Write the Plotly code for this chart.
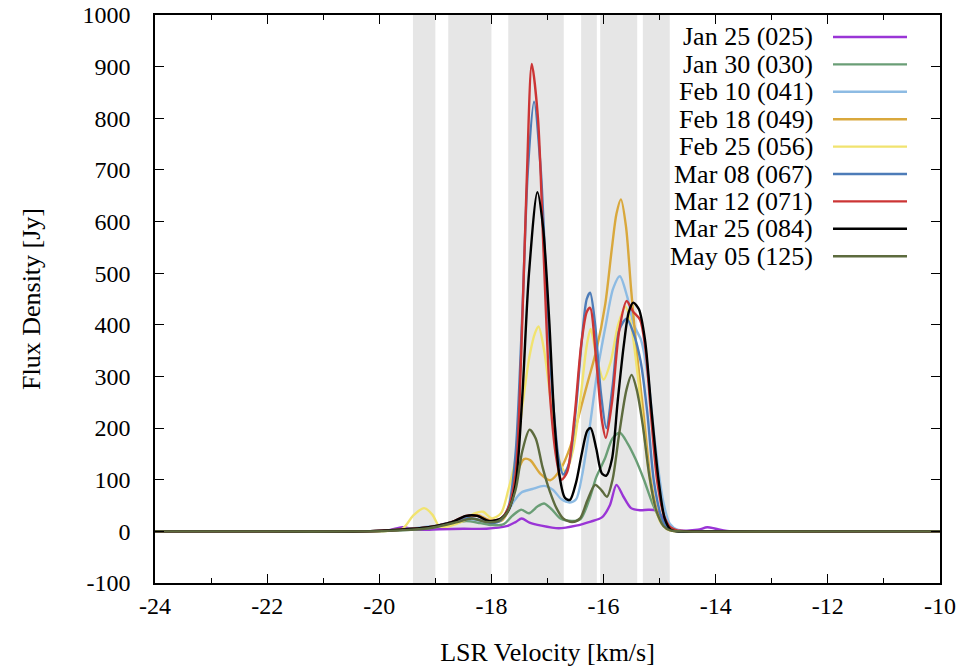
import plotly.graph_objects as go

# ---------------- data ----------------
labels = ["Jan 25 (025)", "Jan 30 (030)", "Feb 10 (041)", "Feb 18 (049)", "Feb 25 (056)",
          "Mar 08 (067)", "Mar 12 (071)", "Mar 25 (084)", "May 05 (125)"]
colors = ["#9a35d6", "#6a9e76", "#8dbbe3", "#d9a83c", "#f1e36f",
          "#4d7cb8", "#cc3535", "#000000", "#5d6b3e"]

jan25_v = [-24, -22, -20.55, -19.84, -19.59, -19.33, -18.92, -18.5, -18.09, -17.73, -17.57, -17.46, -17.32, -17.11, -16.8, -16.49, -16.23, -16.03, -15.89, -15.77, -15.65, -15.51, -15.35, -15.2, -15.05, -14.93, -14.81, -14.63, -14.32, -14.15, -14.0, -13.8, -13.4, -12, -10]
jan25_f = [0, 0, 0, 2, 8, 3, 4, 5, 5, 10, 18, 25, 17, 11, 6, 11, 19, 27, 50, 90, 68, 45, 41, 42, 40, 24, 6, 2, 3, 8, 5, 1, 0, 0, 0]

jan30_v = [-24, -22, -20.26, -19.64, -19.12, -18.71, -18.45, -18.2, -17.99, -17.78, -17.63, -17.47, -17.33, -17.18, -17.06, -16.92, -16.77, -16.56, -16.41, -16.26, -16.13, -15.98, -15.84, -15.71, -15.57, -15.43, -15.28, -15.12, -14.96, -14.82, -14.63, -14.28, -12, -10]
jan30_f = [0, 0, 0, 2, 6, 15, 20, 16, 12, 14, 30, 42, 35, 48, 54, 42, 25, 20, 24, 60, 105, 140, 180, 191, 170, 140, 100, 52, 18, 4, 0, 0, 0, 0]

feb10_v = [-24, -22, -20.26, -19.64, -19.22, -18.92, -18.61, -18.4, -18.15, -17.94, -17.78, -17.62, -17.47, -17.27, -17.06, -16.9, -16.75, -16.6, -16.49, -16.38, -16.25, -16.11, -15.96, -15.83, -15.71, -15.58, -15.46, -15.33, -15.21, -15.08, -14.94, -14.82, -14.66, -14.38, -12, -10]
feb10_f = [0, 0, 0, 3, 8, 12, 20, 24, 20, 18, 25, 55, 75, 82, 88, 80, 62, 56, 62, 110, 200, 310, 400, 470, 494, 455, 400, 370, 300, 170, 60, 15, 2, 0, 0, 0]

feb18_v = [-24, -22, -20.26, -19.64, -19.12, -18.71, -18.45, -18.25, -18.05, -17.83, -17.68, -17.55, -17.42, -17.31, -17.13, -16.95, -16.77, -16.59, -16.44, -16.28, -16.13, -15.97, -15.85, -15.77, -15.69, -15.6, -15.51, -15.41, -15.29, -15.16, -15.02, -14.89, -14.76, -14.48, -12, -10]
feb18_f = [0, 0, 0, 3, 8, 18, 28, 32, 22, 20, 45, 110, 140, 138, 112, 99, 120, 165, 225, 290, 350, 440, 550, 615, 643, 590, 470, 350, 230, 100, 30, 6, 1, 0, 0, 0]

feb25_v = [-24, -22, -20.26, -19.59, -19.4, -19.2, -19.05, -18.93, -18.76, -18.5, -18.3, -18.15, -17.99, -17.83, -17.7, -17.57, -17.44, -17.32, -17.22, -17.16, -17.06, -16.95, -16.85, -16.75, -16.67, -16.54, -16.41, -16.3, -16.23, -16.13, -16.0, -15.87, -15.74, -15.61, -15.51, -15.41, -15.3, -15.2, -15.1, -14.97, -14.84, -14.69, -14.38, -12, -10]
feb25_f = [0, 0, 0, 5, 30, 45, 32, 10, 10, 20, 35, 38, 25, 35, 80, 140, 250, 340, 385, 397, 350, 260, 170, 125, 115, 160, 260, 360, 392, 340, 294, 330, 400, 435, 400, 320, 210, 120, 55, 15, 3, 0, 0, 0, 0]

mar08_v = [-24, -22, -20.26, -19.64, -19.12, -18.71, -18.45, -18.2, -17.99, -17.83, -17.69, -17.57, -17.45, -17.35, -17.24, -17.12, -17.01, -16.9, -16.8, -16.72, -16.62, -16.5, -16.38, -16.3, -16.24, -16.15, -16.05, -15.95, -15.84, -15.72, -15.59, -15.47, -15.34, -15.22, -15.1, -14.96, -14.84, -14.69, -14.38, -12, -10]
mar08_f = [0, 0, 0, 3, 8, 18, 26, 22, 16, 22, 50, 150, 420, 700, 832, 700, 450, 250, 140, 110, 130, 230, 380, 450, 462, 400, 270, 200, 280, 390, 412, 385, 330, 230, 95, 25, 5, 0, 0, 0, 0]

mar12_v = [-24, -22, -20.26, -19.64, -19.12, -18.71, -18.45, -18.25, -18.05, -17.83, -17.7, -17.57, -17.47, -17.37, -17.28, -17.17, -17.07, -16.96, -16.84, -16.75, -16.65, -16.52, -16.4, -16.3, -16.24, -16.13, -16.03, -15.96, -15.85, -15.72, -15.59, -15.47, -15.35, -15.25, -15.15, -15.04, -14.92, -14.81, -14.69, -14.38, -12, -10]
mar12_f = [0, 0, 0, 3, 8, 18, 30, 30, 20, 25, 45, 110, 340, 680, 905, 800, 540, 270, 140, 100, 115, 220, 360, 425, 433, 330, 215, 181, 250, 390, 446, 425, 410, 350, 220, 95, 30, 8, 2, 0, 0, 0]

mar25_v = [-24, -22, -20.26, -19.64, -19.12, -18.71, -18.45, -18.25, -18.05, -17.83, -17.7, -17.57, -17.45, -17.33, -17.18, -17.08, -16.97, -16.88, -16.79, -16.69, -16.6, -16.49, -16.39, -16.29, -16.23, -16.13, -16.03, -15.95, -15.85, -15.75, -15.64, -15.55, -15.47, -15.37, -15.26, -15.15, -15.02, -14.91, -14.81, -14.69, -14.38, -12, -10]
mar25_f = [0, 0, 0, 3, 8, 18, 30, 30, 20, 25, 40, 90, 260, 500, 657, 590, 410, 220, 110, 65, 61, 95, 150, 195, 200, 160, 112, 108, 140, 250, 360, 425, 443, 430, 370, 240, 100, 25, 4, 0, 0, 0, 0]

may05_v = [-24, -22, -20.26, -19.64, -19.12, -18.61, -18.35, -18.09, -17.88, -17.73, -17.57, -17.45, -17.32, -17.21, -17.09, -16.96, -16.84, -16.72, -16.56, -16.42, -16.29, -16.15, -16.04, -15.94, -15.84, -15.72, -15.59, -15.5, -15.41, -15.3, -15.18, -15.06, -14.93, -14.81, -14.58, -12, -10]
may05_f = [0, 0, 0, 2, 6, 18, 25, 18, 20, 35, 80, 155, 197, 180, 125, 78, 45, 25, 18, 25, 60, 90, 80, 67, 100, 190, 275, 303, 275, 205, 105, 40, 10, 2, 0, 0, 0]

series_v = [jan25_v, jan30_v, feb10_v, feb18_v, feb25_v, mar08_v, mar12_v, mar25_v, may05_v]
series_f = [jan25_f, jan30_f, feb10_f, feb18_f, feb25_f, mar08_f, mar12_f, mar25_f, may05_f]

bands = [(-19.4, -19.0), (-18.77, -18.0), (-17.7, -16.71), (-16.4, -16.12), (-16.06, -15.4), (-15.3, -14.82)]

x_range = [-24, -10]
y_range = [-100, 1000]
x_ticks = [-24, -22, -20, -18, -16, -14, -12, -10]
x_tick_labels = ["-24", "-22", "-20", "-18", "-16", "-14", "-12", "-10"]
y_ticks = [-100, 0, 100, 200, 300, 400, 500, 600, 700, 800, 900, 1000]
y_tick_labels = ["-100", "0", "100", "200", "300", "400", "500", "600", "700", "800", "900", "1000"]
x_title = "LSR Velocity [km/s]"
y_title = "Flux Density [Jy]"

# ---------------- figure ----------------
FONT = "Liberation Serif"
fig = go.Figure()

for name, col, v, f in zip(labels, colors, series_v, series_f):
    fig.add_trace(go.Scatter(x=v, y=f, mode="lines", name=name,
                             line=dict(color=col, width=2.4, shape="spline", smoothing=0.8),
                             showlegend=False))

shapes = []
for b0, b1 in bands:
    shapes.append(dict(type="rect", xref="x", yref="paper", x0=b0, x1=b1, y0=0, y1=1,
                       fillcolor="#e6e6e6", line=dict(width=0), layer="below"))

# gnuplot-style key: text right-aligned, sample line on the right
L, R, T, B = 155, 940, 15, 583
W, H = R - L, B - T
annotations = []
for i, (name, col) in enumerate(zip(labels, colors)):
    py = 37 + 27.4 * i
    yp = (B - py) / H
    annotations.append(dict(xref="paper", yref="paper", x=(815 - L) / W, y=yp,
                            text=name, showarrow=False, xanchor="right", yanchor="middle",
                            font=dict(family=FONT, size=26, color="black")))
    shapes.append(dict(type="line", xref="paper", yref="paper",
                       x0=(833 - L) / W, x1=(907 - L) / W, y0=yp, y1=yp,
                       line=dict(color=col, width=2.4)))

axis_common = dict(showline=True, linecolor="black", linewidth=1.5, mirror="allticks",
                   ticks="inside", ticklen=9, tickwidth=1, tickcolor="black",
                   showgrid=False, zeroline=False, automargin=False,
                   tickfont=dict(family=FONT, size=24, color="black"))

fig.update_layout(
    width=972, height=668,
    margin=dict(l=L, r=972 - R, t=T, b=668 - B, autoexpand=False),
    paper_bgcolor="white", plot_bgcolor="white",
    shapes=shapes, annotations=annotations,
    xaxis=dict(range=x_range, tickmode="array", tickvals=x_ticks, ticktext=x_tick_labels,
               ticklabelstandoff=0,
               minor=dict(dtick=1, tick0=-24, ticks="inside", ticklen=5, tickcolor="black"),
               title=dict(text=x_title, font=dict(family=FONT, size=26, color="black"), standoff=25),
               **axis_common),
    yaxis=dict(range=y_range, tickmode="array", tickvals=y_ticks, ticktext=y_tick_labels,
               ticklabelstandoff=18,
               title=dict(text=y_title, font=dict(family=FONT, size=26, color="black"), standoff=34),
               **axis_common),
)

fig.write_html("out.html")
